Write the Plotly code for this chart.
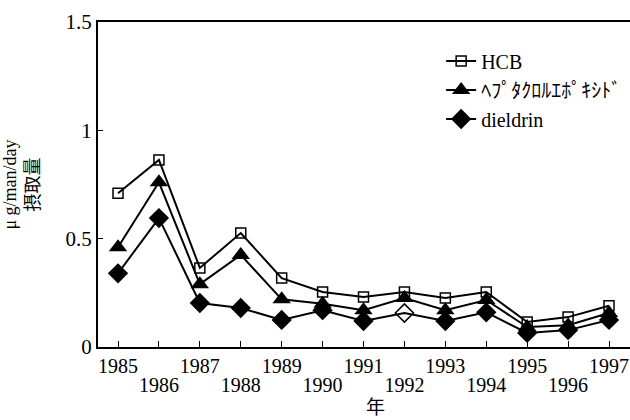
import plotly.graph_objects as go

years = [1985, 1986, 1987, 1988, 1989, 1990, 1991, 1992, 1993, 1994, 1995, 1996, 1997]
hcb = [0.71, 0.863, 0.365, 0.526, 0.318, 0.254, 0.231, 0.254, 0.226, 0.254, 0.115, 0.138, 0.19]
hepta = [0.46, 0.76, 0.29, 0.425, 0.22, 0.20, 0.17, 0.226, 0.17, 0.217, 0.092, 0.10, 0.157]
dieldrin = [0.34, 0.595, 0.203, 0.18, 0.125, 0.17, 0.12, 0.157, 0.12, 0.16, 0.065, 0.078, 0.125]
dieldrin_symbols = ["diamond"] * 7 + ["diamond-open"] + ["diamond"] * 5

names = ["HCB", "ﾍﾌﾟﾀｸﾛﾙｴﾎﾟｷｼﾄﾞ", "dieldrin"]
odd_years = years[0::2]
even_years = years[1::2]
ytick_vals = [0, 0.5, 1, 1.5]
ytick_text = ["0", "0.5", "1", "1.5"]

FONT = "Liberation Serif, Noto Sans CJK JP, serif"
XR = [1984.511, 1997.513]

fig = go.Figure()
fig.add_trace(go.Scatter(x=years, y=hcb, name=names[0], mode="lines+markers",
                         xaxis="x2",
                         line=dict(color="black", width=2),
                         marker=dict(symbol="square-open", size=10, color="black",
                                     line=dict(width=1.5, color="black"))))
fig.add_trace(go.Scatter(x=years, y=hepta, name=names[1], mode="lines+markers",
                         line=dict(color="black", width=2),
                         marker=dict(symbol="triangle-up", size=16, color="black")))
fig.add_trace(go.Scatter(x=years, y=dieldrin, name=names[2], mode="lines+markers",
                         line=dict(color="black", width=2),
                         marker=dict(symbol=dieldrin_symbols, size=14, color="black",
                                     line=dict(width=1.5, color="black"))))

fig.update_layout(
    width=630, height=420,
    margin=dict(l=98, r=0, t=22, b=73),
    paper_bgcolor="white", plot_bgcolor="white",
    font=dict(family=FONT, color="black", size=18),
    showlegend=True,
    legend=dict(x=0.645, y=0.94, xanchor="left", yanchor="top",
                bgcolor="rgba(0,0,0,0)", font=dict(size=20, family=FONT)),
    xaxis=dict(range=XR, tickmode="array", tickvals=odd_years,
               ticktext=[str(y) for y in odd_years],
               ticks="inside", ticklen=6, tickcolor="black",
               showline=True, linecolor="black", linewidth=2, mirror=True,
               showgrid=False, zeroline=False, tickangle=0, automargin=False,
               ticklabelstandoff=0, ticklabeloverflow="allow",
               tickfont=dict(size=20, family=FONT)),
    xaxis2=dict(range=XR, overlaying="x", anchor="y", side="bottom",
                tickmode="array", tickvals=even_years,
                ticktext=[str(y) for y in even_years],
                ticks="inside", ticklen=6, tickcolor="black",
                showline=False, showgrid=False, zeroline=False,
                tickangle=0, automargin=False, ticklabelstandoff=24,
                ticklabeloverflow="allow",
                tickfont=dict(size=20, family=FONT)),
    yaxis=dict(range=[0, 1.5], tickmode="array", tickvals=ytick_vals, ticktext=ytick_text,
               ticks="inside", ticklen=5, tickcolor="black",
               showline=True, linecolor="black", linewidth=2, mirror=False,
               showgrid=False, zeroline=False, automargin=False,
               tickfont=dict(size=21, family=FONT),
               title=dict(text="μ g/man/day<br>摂取量", font=dict(size=18, family=FONT), standoff=24)),
)
fig.add_annotation(text="年", x=(375 - 98) / 532, y=-(408 - 347) / 325,
                   xref="paper", yref="paper", yanchor="middle", showarrow=False,
                   font=dict(size=19, family=FONT))

fig.write_html("out.html", config={"displayModeBar": False},
               post_script="document.body.style.margin='0';document.body.style.overflow='hidden';")
